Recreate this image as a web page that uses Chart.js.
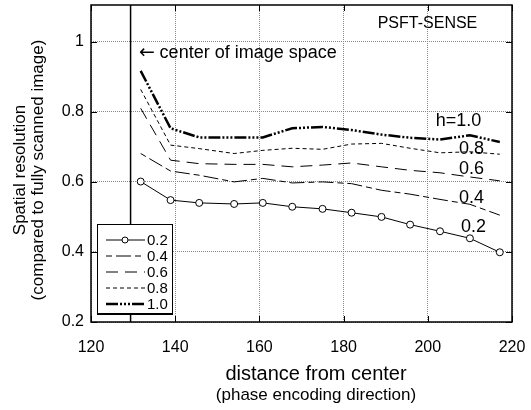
<!DOCTYPE html>
<html>
<head>
<meta charset="utf-8">
<script src="https://cdn.jsdelivr.net/npm/chart.js@4/dist/chart.umd.min.js"></script>
<style>
body { margin: 0; background: #fff; }
#wrap { width: 531px; height: 410px; }
</style>
</head>
<body>
<div id="wrap"><canvas id="chart"></canvas></div>
<script>
// distance from center (x) for every series
const distance = [131.8, 138.9, 145.7, 154.0, 160.8, 167.8, 175.0, 181.9, 189.0, 195.8, 202.9, 210.0, 217.1];
// spatial resolution per h
const h02 = [0.601, 0.548, 0.540, 0.537, 0.540, 0.529, 0.523, 0.512, 0.500, 0.478, 0.459, 0.439, 0.399];
const h04 = [0.681, 0.631, 0.619, 0.600, 0.610, 0.597, 0.600, 0.595, 0.576, 0.565, 0.550, 0.536, 0.505];
const h06 = [0.810, 0.662, 0.652, 0.650, 0.650, 0.643, 0.648, 0.654, 0.643, 0.633, 0.626, 0.614, 0.603];
const h08 = [0.864, 0.705, 0.695, 0.681, 0.690, 0.696, 0.693, 0.708, 0.710, 0.696, 0.683, 0.686, 0.679];
const h10 = [0.917, 0.753, 0.727, 0.727, 0.727, 0.753, 0.757, 0.748, 0.735, 0.726, 0.721, 0.733, 0.714];
const seriesNames = ['0.2', '0.4', '0.6', '0.8', '1.0'];
const xTicks = [120, 140, 160, 180, 200, 220];
const yTicks = [0.2, 0.4, 0.6, 0.8, 1.0];
const centerOfImage = 129.4;

const FONT = '"Liberation Sans", Arial, sans-serif';

// text put on the plot, in data coordinates
const notes = [
    { text: 'h=1.0', x: 201.9, y: 0.773, size: 18 },
    { text: '0.8', x: 207.4, y: 0.693, size: 18 },
    { text: '0.6', x: 207.4, y: 0.636, size: 18 },
    { text: '0.4', x: 207.4, y: 0.555, size: 18 },
    { text: '0.2', x: 207.9, y: 0.471, size: 18 },
    { text: 'PSFT-SENSE', x: 188.1, y: 1.051, size: 16 },
    { text: '\u2190', x: 131.4, y: 0.969, size: 19, family: '"DejaVu Sans", sans-serif' },
    { text: 'center of image space', x: 136.3, y: 0.969, size: 18 }
];

function pts(ys) { // pair up x and y values
    return ys.map((y, i) => ({ x: distance[i], y: y }));
}

const styles = [
    { borderWidth: 1, borderDash: [], pointRadius: 3.5 },
    { borderWidth: 1, borderDash: [6, 4, 15, 4], pointRadius: 0 },
    { borderWidth: 1, borderDash: [12, 7], pointRadius: 0 },
    { borderWidth: 1, borderDash: [4, 3], pointRadius: 0 },
    { borderWidth: 2.5, borderDash: [12, 2, 2, 2, 2, 2, 2, 2], pointRadius: 0 }
];

const datasets = [h02, h04, h06, h08, h10].map((ys, i) => ({
    label: seriesNames[i],
    data: pts(ys),
    borderColor: '#000',
    backgroundColor: '#fff',
    borderWidth: styles[i].borderWidth,
    borderDash: styles[i].borderDash,
    pointRadius: styles[i].pointRadius,
    pointBorderColor: '#000',
    pointBackgroundColor: '#fff',
    pointBorderWidth: 1,
    tension: 0,
    fill: false
}));

const extras = {
    id: 'extras',
    beforeDatasetsDraw(chart) {
        const ctx = chart.ctx, a = chart.chartArea;
        const px = chart.scales.x.getPixelForValue(centerOfImage);
        ctx.save();
        ctx.strokeStyle = '#000';
        ctx.lineWidth = 1.5;
        ctx.beginPath();
        ctx.moveTo(px, a.top);
        ctx.lineTo(px, a.bottom);
        ctx.stroke();
        ctx.restore();
    },
    afterDraw(chart) {
        const ctx = chart.ctx, a = chart.chartArea;
        const sx = chart.scales.x, sy = chart.scales.y;
        ctx.save();
        // frame and inward ticks
        ctx.strokeStyle = '#000';
        ctx.lineWidth = 1.5;
        ctx.strokeRect(a.left, a.top, a.right - a.left, a.bottom - a.top);
        ctx.lineWidth = 1;
        ctx.beginPath();
        xTicks.forEach(v => {
            const p = Math.round(sx.getPixelForValue(v)) + 0.5;
            ctx.moveTo(p, a.bottom); ctx.lineTo(p, a.bottom - 6);
            ctx.moveTo(p, a.top); ctx.lineTo(p, a.top + 6);
        });
        yTicks.forEach(v => {
            const p = Math.round(sy.getPixelForValue(v)) + 0.5;
            ctx.moveTo(a.left, p); ctx.lineTo(a.left + 6, p);
            ctx.moveTo(a.right, p); ctx.lineTo(a.right - 6, p);
        });
        ctx.stroke();

        // notes
        ctx.fillStyle = '#000';
        ctx.textAlign = 'left';
        ctx.textBaseline = 'middle';
        notes.forEach(n => {
            ctx.font = n.size + 'px ' + (n.family || FONT);
            ctx.fillText(n.text, sx.getPixelForValue(n.x), sy.getPixelForValue(n.y));
        });

        // legend box
        const lx = 97, ly = 224, lw = 75, lh = 89;
        ctx.fillStyle = '#fff';
        ctx.fillRect(lx, ly, lw, lh);
        ctx.strokeStyle = '#000';
        ctx.lineWidth = 1;
        ctx.strokeRect(lx + 0.5, ly + 0.5, lw, lh);
        ctx.lineWidth = 2;
        ctx.beginPath();
        ctx.moveTo(lx, ly + lh + 1); ctx.lineTo(lx + lw + 1, ly + lh + 1);
        ctx.stroke();
        ctx.font = '15px ' + FONT;
        chart.data.datasets.forEach((ds, i) => {
            const y = ly + 16 + i * 16;
            ctx.strokeStyle = '#000';
            ctx.lineWidth = ds.borderWidth;
            ctx.setLineDash(ds.borderDash);
            ctx.beginPath();
            ctx.moveTo(lx + 9, y); ctx.lineTo(lx + 48, y);
            ctx.stroke();
            ctx.setLineDash([]);
            if (ds.pointRadius > 0) {
                ctx.lineWidth = 1;
                ctx.fillStyle = '#fff';
                ctx.beginPath();
                ctx.arc(lx + 28, y, 3, 0, Math.PI * 2);
                ctx.fill();
                ctx.stroke();
            }
            ctx.fillStyle = '#000';
            ctx.fillText(ds.label, lx + 50, y + 1);
        });

        // axis titles
        ctx.textAlign = 'center';
        ctx.font = '20px ' + FONT;
        ctx.fillText('distance from center', 316, 374);
        ctx.font = '17px ' + FONT;
        ctx.fillText('(phase encoding direction)', 316, 395);
        ctx.save();
        ctx.translate(20, 170);
        ctx.rotate(-Math.PI / 2);
        ctx.font = '17px ' + FONT;
        ctx.fillText('Spatial resolution', 0, 0);
        ctx.fillText('(compared to fully scanned image)', 0, 18);
        ctx.restore();
        ctx.restore();
    }
};

new Chart(document.getElementById('chart').getContext('2d'), {
    type: 'line',
    data: { datasets: datasets },
    options: {
        responsive: true,
        maintainAspectRatio: false,
        animation: false,
        layout: { padding: { top: 5, right: 19, left: 0, bottom: 0 } },
        plugins: { legend: { display: false }, tooltip: { enabled: false } },
        scales: {
            x: {
                type: 'linear',
                min: 120, max: 220,
                afterBuildTicks: s => { s.ticks = xTicks.map(v => ({ value: v })); },
                afterFit: s => { s.height = 88; s.paddingLeft = 0; s.paddingRight = 0; },
                grid: { color: '#888', lineWidth: 1, drawTicks: false },
                border: { display: false, dash: [1, 1] },
                ticks: { color: '#000', font: { family: FONT, size: 16 }, padding: 16, maxRotation: 0 }
            },
            y: {
                min: 0.2, max: 1.105,
                afterBuildTicks: s => { s.ticks = yTicks.map(v => ({ value: v })); },
                afterFit: s => { s.width = 91; s.paddingTop = 0; s.paddingBottom = 0; },
                grid: { color: '#888', lineWidth: 1, drawTicks: false },
                border: { display: false, dash: [1, 1] },
                ticks: {
                    color: '#000', font: { family: FONT, size: 16 }, padding: 7,
                    callback: v => v === 1 ? '1' : v.toFixed(1)
                }
            }
        }
    },
    plugins: [extras]
});
</script>
</body>
</html>
